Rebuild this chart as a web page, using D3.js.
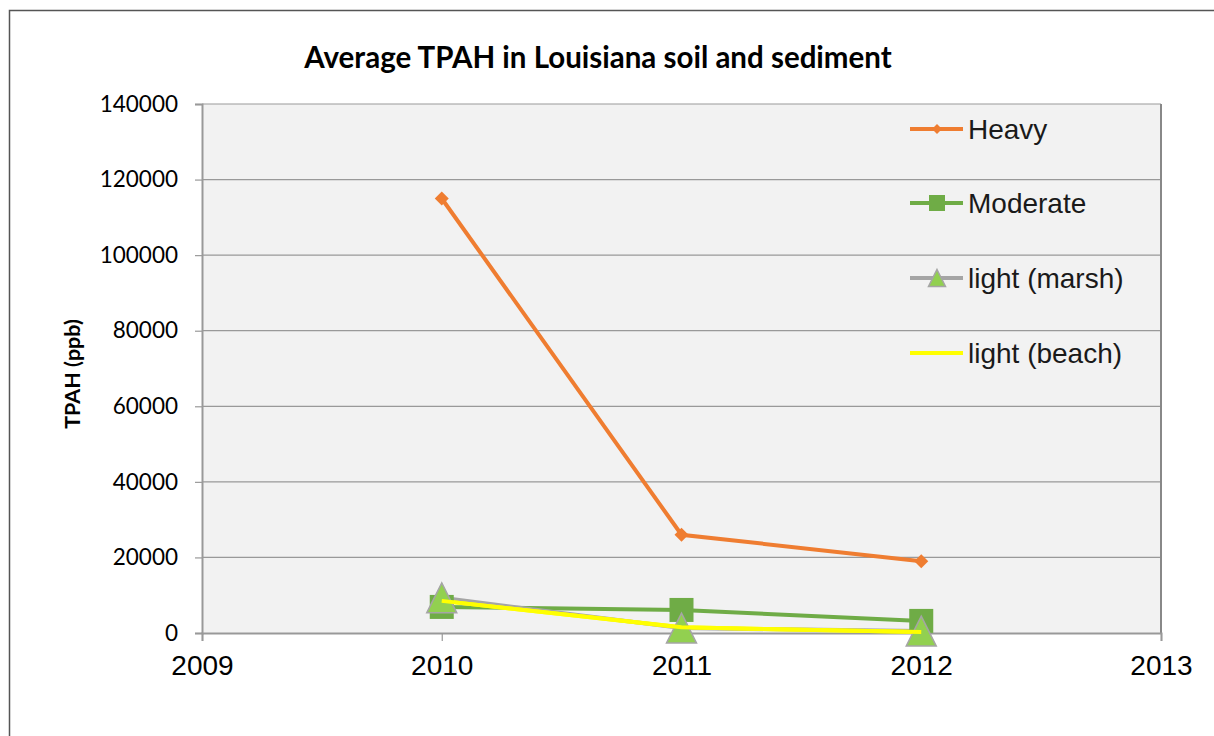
<html lang="en">
<head>
  <meta charset="UTF-8">
  <title>Average TPAH</title>
  <script src="https://cdn.jsdelivr.net/npm/d3@7"></script>
  <style>
    body { margin: 0; background: #fff; }
  </style>
</head>
<body>
  <svg width="1214" height="736"></svg>

  <script>
    // data
    const years = [2010, 2011, 2012];
    const heavy = [115000, 26000, 19000];
    const moderate = [6900, 6100, 3200];
    const lightMarsh = [9300, 1300, 500];
    const lightBeach = [8500, 1500, 250];
    const yTicks = [0, 20000, 40000, 60000, 80000, 100000, 120000, 140000];
    const xTicks = [2009, 2010, 2011, 2012, 2013];

    const series = [
      { name: "Heavy", values: heavy, stroke: "#ef7d31", marker: "diamond", fill: "#ef7d31", mstroke: "#ef7d31" },
      { name: "Moderate", values: moderate, stroke: "#6fac46", marker: "square", fill: "#6fac46", mstroke: "#6fac46" },
      { name: "light (marsh)", values: lightMarsh, stroke: "#a5a5a5", marker: "triangle", fill: "#92d050", mstroke: "#a5a5a5" },
      { name: "light (beach)", values: lightBeach, stroke: "#ffff00", marker: null }
    ];

    const svg = d3.select("svg");

    // outer chart frame
    svg.append("rect")
      .attr("x", 9.5).attr("y", 10.5)
      .attr("width", 1214).attr("height", 740)
      .attr("fill", "none").attr("stroke", "#555").attr("stroke-width", 1.5);

    const pLeft = 202, pRight = 1161, pTop = 104, pBottom = 633;

    const x = d3.scaleLinear().domain([2009, 2013]).range([pLeft, pRight]);
    const y = d3.scaleLinear().domain([0, 140000]).range([pBottom, pTop]);

    // plot background
    svg.append("rect")
      .attr("x", pLeft).attr("y", pTop)
      .attr("width", pRight - pLeft).attr("height", pBottom - pTop)
      .attr("fill", "#f2f2f2");

    // gridlines
    svg.append("g")
      .selectAll("line")
      .data(yTicks.slice(1))
      .join("line")
      .attr("x1", pLeft).attr("x2", pRight)
      .attr("y1", d => y(d)).attr("y2", d => y(d))
      .attr("stroke", "#999").attr("stroke-width", 1.2);

    // right border of plot
    svg.append("line")
      .attr("x1", pRight).attr("x2", pRight).attr("y1", pTop).attr("y2", pBottom)
      .attr("stroke", "#888").attr("stroke-width", 2);

    // y axis
    const yAxis = svg.append("g")
      .attr("transform", `translate(${pLeft},0)`)
      .call(d3.axisLeft(y).tickValues(yTicks).tickFormat(d3.format("d")).tickSize(7).tickPadding(17));
    yAxis.select(".domain").attr("stroke", "#999").attr("stroke-width", 2);
    yAxis.selectAll(".tick line").attr("stroke", "#999").attr("stroke-width", 1.2);
    yAxis.selectAll("text")
      .attr("font-family", "Lato, 'Open Sans', sans-serif")
      .attr("font-size", 22.5).attr("fill", "#000");

    // x axis
    const xAxis = svg.append("g")
      .attr("transform", `translate(0,${pBottom})`)
      .call(d3.axisBottom(x).tickValues(xTicks).tickFormat(d3.format("d")).tickSize(8).tickPadding(14));
    xAxis.select(".domain").attr("stroke", "#999").attr("stroke-width", 2);
    xAxis.selectAll(".tick line").attr("stroke", "#999").attr("stroke-width", 1.2);
    xAxis.selectAll("text")
      .attr("font-family", "'Liberation Sans', Arial, sans-serif")
      .attr("font-size", 28).attr("fill", "#000");

    // title
    svg.append("text")
      .attr("x", 598).attr("y", 68)
      .attr("text-anchor", "middle")
      .attr("font-family", "Lato, 'Open Sans', sans-serif")
      .attr("font-weight", "bold").attr("font-size", 29.5)
      .text("Average TPAH in Louisiana soil and sediment");

    // y axis label
    svg.append("text")
      .attr("transform", "translate(80,374) rotate(-90)")
      .attr("text-anchor", "middle")
      .attr("font-family", "Lato, 'Open Sans', sans-serif")
      .attr("font-weight", "bold").attr("font-size", 21.5)
      .text("TPAH (ppb)");

    const line = d3.line()
      .x((d, i) => x(years[i]))
      .y(d => y(d));

    function drawMarker(g, s, cx, cy, size) {
      if (s.marker === "diamond") {
        g.append("path")
          .attr("d", `M${cx},${cy - size} L${cx + size},${cy} L${cx},${cy + size} L${cx - size},${cy} Z`)
          .attr("fill", s.fill);
      } else if (s.marker === "square") {
        g.append("rect")
          .attr("x", cx - size).attr("y", cy - size)
          .attr("width", size * 2).attr("height", size * 2)
          .attr("fill", s.fill);
      } else if (s.marker === "triangle") {
        g.append("path")
          .attr("d", `M${cx},${cy - size} L${cx + size},${cy + size} L${cx - size},${cy + size} Z`)
          .attr("fill", s.fill).attr("stroke", s.mstroke).attr("stroke-width", 1.5);
      }
    }

    const plot = svg.append("g");
    const markerSize = { diamond: 7, square: 12, triangle: 15 };

    series.forEach(s => {
      plot.append("path")
        .datum(s.values)
        .attr("d", line)
        .attr("fill", "none")
        .attr("stroke", s.stroke)
        .attr("stroke-width", 4);
    });

    series.forEach(s => {
      if (!s.marker) return;
      s.values.forEach((v, i) => drawMarker(plot, s, x(years[i]), y(v), markerSize[s.marker]));
    });

    // yellow line drawn over markers like the reference
    plot.append("path")
      .datum(lightBeach)
      .attr("d", line)
      .attr("fill", "none")
      .attr("stroke", "#ffff00")
      .attr("stroke-width", 4);

    // legend
    const legY = [129, 203, 278, 353];
    const legend = svg.append("g");
    series.forEach((s, i) => {
      const ly = legY[i];
      legend.append("line")
        .attr("x1", 910).attr("x2", 963).attr("y1", ly).attr("y2", ly)
        .attr("stroke", s.stroke).attr("stroke-width", 4);
      if (s.marker) {
        const sz = { diamond: 5, square: 8, triangle: 8.5 }[s.marker];
        drawMarker(legend, s, 937, ly, sz);
      }
      legend.append("text")
        .attr("x", 968).attr("y", ly + 10)
        .attr("font-family", "'Liberation Sans', Arial, sans-serif")
        .attr("font-size", 28).attr("fill", "#1a1a1a")
        .text(s.name);
    });
  </script>
</body>
</html>
